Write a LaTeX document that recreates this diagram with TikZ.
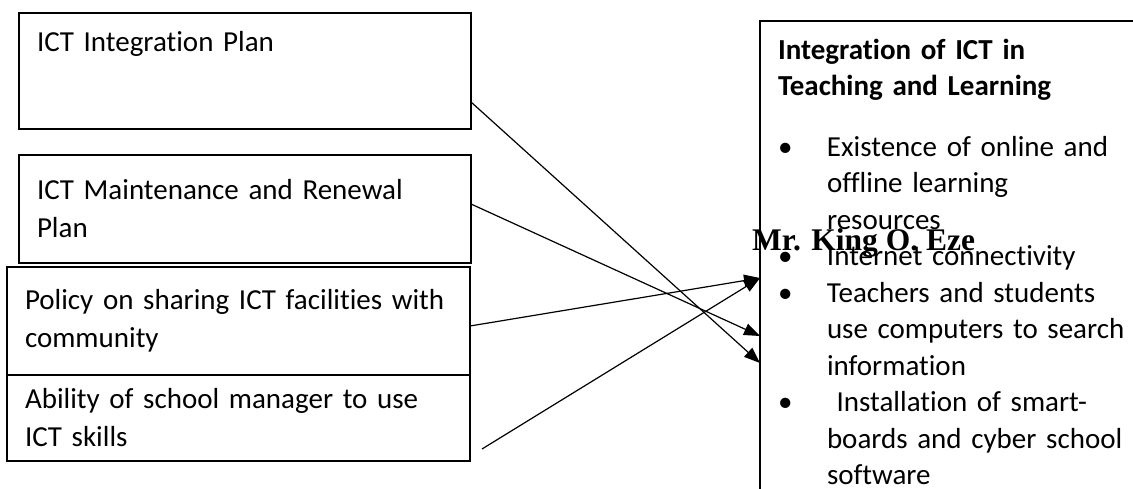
\documentclass[tikz,border=0pt]{standalone}
\usepackage{fontspec}
\setmainfont{Carlito}[Ligatures=NoCommon]
\newfontfamily\namefont{Liberation Serif}
\usetikzlibrary{arrows.meta,positioning,calc}
\tikzset{
  leftbox/.style ={draw=black, line width=1.6pt, anchor=north west, align=left, outer sep=0pt,
                   inner xsep=18pt, inner ysep=0pt, font=\fontsize{29}{38}\selectfont},
  mainbox/.style ={draw=black, line width=1.6pt, anchor=north west, align=left, outer sep=0pt,
                   inner xsep=18pt, inner ysep=18pt, text width=420pt,
                   font=\fontsize{29}{36.5}\selectfont},
  namelbl/.style ={font=\namefont\bfseries\fontsize{31.5}{36}\selectfont, inner sep=0pt, anchor=base west},
  ar/.style      ={-{Triangle[length=16pt,width=12pt]}, line width=1.2pt},
}
\newcommand{\bitem}{\makebox[49pt][l]{\textbullet}}
\newcommand{\bcont}{\hspace*{49pt}}

\begin{document}
\begin{tikzpicture}[x=1pt, y=-1pt]
\useasboundingbox (0,0) rectangle (1133,489);
\clip (0,0) rectangle (1133,489);

% ---- left side: the four factors ----
\node[leftbox, text width=416pt, minimum height=116pt] (plan) at (19,13) {ICT Integration Plan\\[22pt]\mbox{}};
\node[leftbox, text width=416pt, minimum height=108pt] (maint) at (19,155) {ICT Maintenance and Renewal\\Plan};
\node[leftbox, text width=427pt, minimum height=108pt] (policy) at (7,267) {Policy on sharing ICT facilities with\\community};
\node[leftbox, text width=427pt, minimum height=86pt] (skills) at (7,375) {Ability of school manager to use\\ICT skills};

% ---- right side: the outcome ----
\node[mainbox] (integ) at (760,21) {\textbf{Integration of ICT in}\\
  \textbf{Teaching and Learning}\\[24pt]
  \bitem Existence of online and\\
  \bcont offline learning\\
  \bcont resources\\
  \bitem Internet connectivity\\
  \bitem Teachers and students\\
  \bcont use computers to search\\
  \bcont information\\
  \bitem\ Installation of smart-\\
  \bcont boards and cyber school\\
  \bcont software};

\node[namelbl] (author) at (752,251) {Mr. King O. Eze};

% ---- links ----
\draw[ar] ([yshift=-31pt]plan.east) -- ($(integ.north west)+(0,342)$);
\draw[ar] ([yshift=5pt]maint.east) -- ($(integ.north west)+(0,315)$);
\draw[ar] ([yshift=-5pt]policy.east) -- ($(integ.north west)+(0,257)$);
\draw[ar] ([shift={(12pt,-31pt)}]skills.east) -- ($(integ.north west)+(0,257)$);

\end{tikzpicture}
\end{document}
